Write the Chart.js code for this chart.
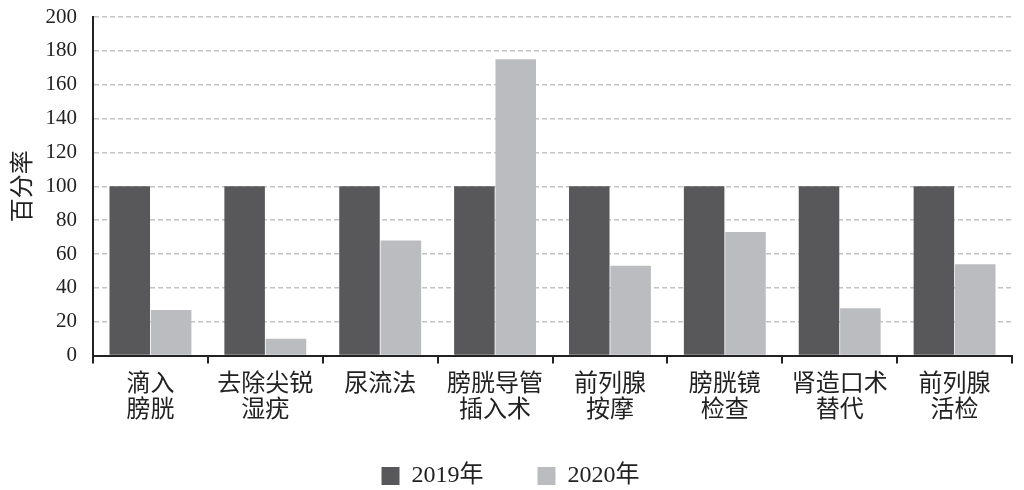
<!DOCTYPE html>
<html>
<head>
<meta charset="utf-8">
<script src="https://cdn.jsdelivr.net/npm/chart.js@4"></script>
<style>
  html, body { margin: 0; padding: 0; background: #fff; }
  #wrap { width: 1024px; height: 490px; }
</style>
</head>
<body>
<div id="wrap"><canvas id="chart"></canvas></div>
<script>
const categories = [
  ['滴入', '膀胱'],
  ['去除尖锐', '湿疣'],
  ['尿流法'],
  ['膀胱导管', '插入术'],
  ['前列腺', '按摩'],
  ['膀胱镜', '检查'],
  ['肾造口术', '替代'],
  ['前列腺', '活检']
];
const values2019 = [100, 100, 100, 100, 100, 100, 100, 100];
const values2020 = [27, 10, 68, 175, 53, 73, 28, 54];
const yTicks = [0, 20, 40, 60, 80, 100, 120, 140, 160, 180, 200];

const FONT = '"Liberation Serif", "Noto Sans CJK SC", serif';

const ctx = document.getElementById('chart').getContext('2d');
new Chart(ctx, {
  type: 'bar',
  data: {
    labels: categories,
    datasets: [
      { label: '2019年', data: values2019, backgroundColor: '#58585a' },
      { label: '2020年', data: values2020, backgroundColor: '#bbbcbf' }
    ]
  },
  options: {
    responsive: true,
    maintainAspectRatio: false,
    animation: false,
    categoryPercentage: 0.72,
    barPercentage: 0.98,
    layout: { padding: { top: 17, right: 12, left: 9, bottom: -8 } },
    plugins: {
      legend: {
        position: 'bottom',
        labels: {
          font: { family: FONT, size: 24 },
          color: '#222',
          boxWidth: 18,
          boxHeight: 18,
          padding: 12,
          // extra gap after the first item, like the reference
          generateLabels: chart =>
            Chart.defaults.plugins.legend.labels.generateLabels(chart)
              .map((l, i) => ({ ...l, text: i === 0 ? l.text + '\u00a0'.repeat(7) : l.text }))
        }
      },
      tooltip: { enabled: false }
    },
    scales: {
      x: {
        afterFit: scale => { scale.height += 20; },
        grid: {
          display: true,
          drawOnChartArea: false,
          drawTicks: true,
          tickLength: 8,
          color: '#222',
          lineWidth: 2
        },
        border: { color: '#222', width: 2 },
        ticks: {
          font: { family: FONT, size: 24, lineHeight: 1.05 },
          color: '#222',
          maxRotation: 0,
          autoSkip: false,
          padding: 9
        }
      },
      y: {
        min: 0,
        max: 200,
        afterBuildTicks: axis => { axis.ticks = yTicks.map(v => ({ value: v })); },
        afterFit: scale => {
          scale.width = 84;
          scale.paddingTop = 0;
        },
        grid: {
          color: '#c4c4c4',
          lineWidth: 1.5,
          drawTicks: false
        },
        border: { color: '#222', width: 2, dash: [5, 3] },
        ticks: {
          font: { family: FONT, size: 21 },
          color: '#222',
          padding: 16
        },
        title: {
          display: true,
          text: '百分率',
          font: { family: FONT, size: 24 },
          color: '#222',
          padding: { top: 0, bottom: 2 }
        }
      }
    }
  }
});
</script>
</body>
</html>
